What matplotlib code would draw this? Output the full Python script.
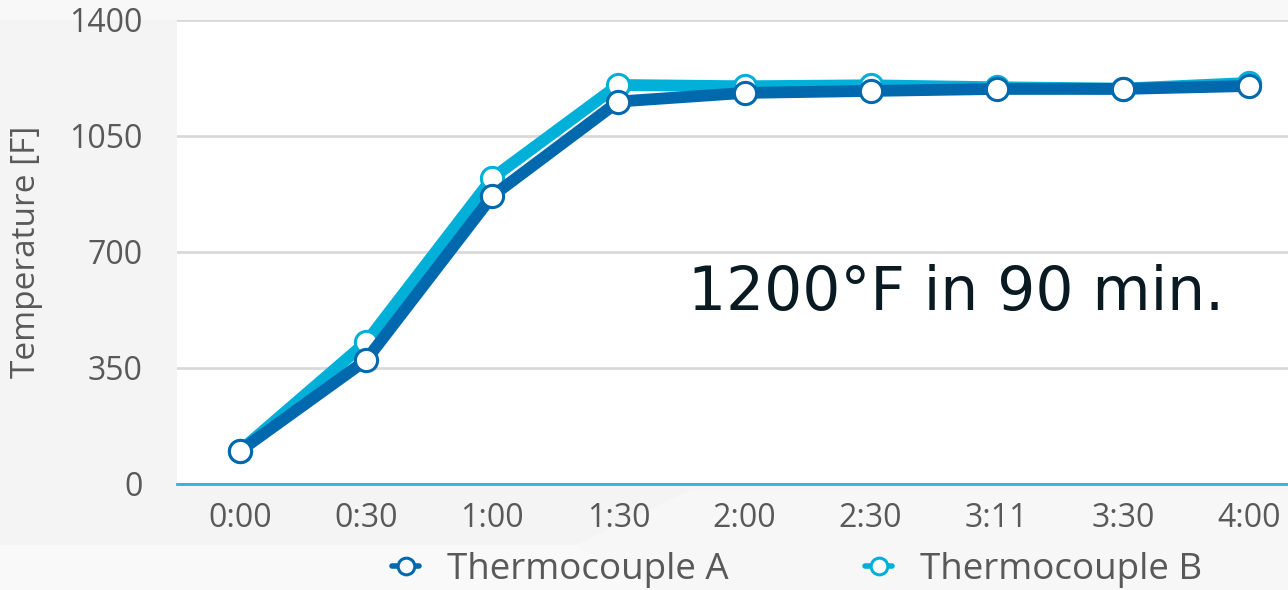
import numpy as np
import matplotlib.pyplot as plt
from matplotlib.patches import Polygon

# Furnace ramp: readings from two thermocouples
times = ['0:00', '0:30', '1:00', '1:30', '2:00', '2:30', '3:11', '3:30', '4:00']
temp_a = [100, 374, 869, 1154, 1180, 1186, 1192, 1192, 1201]
temp_b = [100, 428, 923, 1204, 1200, 1203, 1197, 1193, 1210]
y_ticks = [0, 350, 700, 1050, 1400]

DARK = '#0068AD'
LIGHT = '#00B0D8'
GREY_TXT = '#595959'

fig = plt.figure(figsize=(12.88, 5.90), dpi=100, facecolor='#F4F4F5')

# faint background panels behind the chart
bg = fig.add_axes([0, 0, 1, 1], zorder=-5)
bg.set_xlim(0, 1288)
bg.set_ylim(590, 0)
bg.axis('off')
bg.add_patch(Polygon([[0, 0], [1288, 0], [1288, 20], [0, 20]], color='#F8F8F9', lw=0))
bg.add_patch(Polygon([[0, 545], [575, 545], [660, 590], [0, 590]], color='#F9F9FA', lw=0))
bg.add_patch(Polygon([[575, 545], [690, 490], [1288, 490], [1288, 590], [660, 590]],
                     color='#F7F7F8', lw=0))

ax = fig.add_axes([177 / 1288, 1 - 484 / 590, 1135 / 1288, 464 / 590])
ax.set_facecolor('white')
x = np.arange(len(times))

mk = dict(marker='o', markersize=16, markerfacecolor='white', markeredgewidth=2.2,
          solid_joinstyle='round', solid_capstyle='round')
ax.plot(x, temp_b, color=LIGHT, lw=8.5, markeredgecolor=LIGHT, zorder=3, **mk,
        label='Thermocouple B')
ax.plot(x, temp_a, color=DARK, lw=8.5, markeredgecolor=DARK, zorder=4, **mk,
        label='Thermocouple A')

ax.set_xlim(-0.5, len(times) - 0.5)
ax.set_ylim(0, 1400)
ax.set_yticks(y_ticks)
ax.set_xticks(x)
ax.set_xticklabels(times)
ax.grid(axis='y', color='#D9D9D9', lw=2)
ax.set_axisbelow(True)
for s in ['left', 'right', 'top']:
    ax.spines[s].set_visible(False)
ax.spines['bottom'].set_color('#2FB2DA')
ax.spines['bottom'].set_linewidth(2)
ax.tick_params(length=0, labelsize=23, labelcolor=GREY_TXT)
ax.tick_params(axis='x', pad=13)
ax.tick_params(axis='y', pad=25)
for t in ax.get_xticklabels() + ax.get_yticklabels():
    t.set_fontfamily('Open Sans')

ax.set_ylabel('Temperature [F]', fontsize=24, color=GREY_TXT, family='Open Sans')
ax.yaxis.set_label_coords(-0.118, 0.5)

ax.text(688 / 1288, 297 / 590, '1200°F in 90 min.', transform=fig.transFigure,
        fontsize=43, color='#0A1A22', family='DejaVu Sans', ha='left', va='center')

h, l = ax.get_legend_handles_labels()
leg = fig.legend(h[::-1], l[::-1], loc='center', bbox_to_anchor=(797 / 1288, 1 - 570 / 590),
                 ncol=2, frameon=False, handlelength=0.75, columnspacing=3.7,
                 handletextpad=0.75, prop={'family': 'Open Sans', 'size': 26.5})
for t in leg.get_texts():
    t.set_color(GREY_TXT)
for lh in leg.get_lines():
    lh.set_linewidth(4)
    lh.set_markersize(12)

fig.savefig('out.png', dpi=100, facecolor=fig.get_facecolor())
